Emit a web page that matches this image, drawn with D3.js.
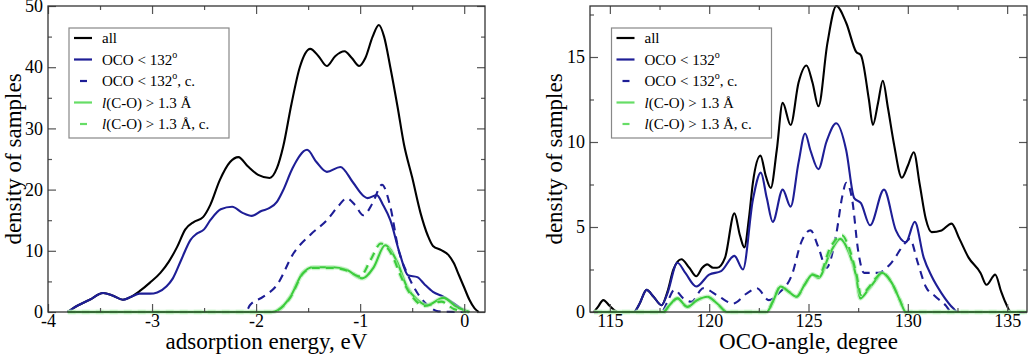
<!DOCTYPE html>
<html>
<head>
<meta charset="utf-8">
<script src="https://cdn.jsdelivr.net/npm/d3@7"></script>
<style>
  body { margin: 0; background: #fff; }
  svg { display: block; }
  svg text { font-family: "Liberation Serif", "Times New Roman", serif; }
</style>
</head>
<body>
<svg id="chart" width="1028" height="358"></svg>
<script>
// ---- data: [x, density] ----
const energyAll = [[-3.81,0],[-3.76,0.6],[-3.6,2.0],[-3.47,3.1],[-3.38,2.7],[-3.28,2.0],[-3.2,2.5],[-3.12,3.4],[-3.02,4.8],[-2.92,6.4],[-2.84,8.2],[-2.76,10.6],[-2.68,13.5],[-2.6,14.7],[-2.51,15.5],[-2.44,17.5],[-2.35,21.5],[-2.25,24.5],[-2.17,25.3],[-2.08,23.8],[-1.98,22.4],[-1.87,21.9],[-1.8,23.5],[-1.74,27],[-1.66,34],[-1.58,40],[-1.48,43],[-1.4,41.8],[-1.32,40.2],[-1.24,41.8],[-1.15,42.6],[-1.08,41.5],[-1.01,40.2],[-0.95,41.5],[-0.88,45],[-0.82,46.9],[-0.77,45],[-0.71,40],[-0.64,33.5],[-0.58,27.5],[-0.5,22],[-0.42,16.2],[-0.35,12.5],[-0.3,10.8],[-0.22,10.1],[-0.15,9.3],[-0.1,8],[-0.05,6],[0,4],[0.05,2],[0.1,0.6],[0.14,0]];
const energyOco = [[-3.81,0],[-3.76,0.6],[-3.6,2.0],[-3.47,3.1],[-3.38,2.7],[-3.28,2.0],[-3.2,2.5],[-3.12,3.0],[-3.02,3.0],[-2.95,3.2],[-2.86,4.2],[-2.8,5.5],[-2.72,8.5],[-2.63,11.8],[-2.57,12.8],[-2.5,13.5],[-2.44,15],[-2.34,16.8],[-2.23,17.2],[-2.13,16.2],[-2.04,15.7],[-1.95,16.5],[-1.87,17],[-1.8,18],[-1.74,19.9],[-1.65,23.5],[-1.51,26.5],[-1.42,24.5],[-1.32,22.9],[-1.19,23.7],[-1.07,21.2],[-0.97,19.0],[-0.93,18.6],[-0.84,19.1],[-0.78,17.5],[-0.71,15],[-0.62,9.6],[-0.54,6.0],[-0.45,5.7],[-0.38,4.5],[-0.3,3.3],[-0.2,2.5],[-0.1,1.4],[0,0.3],[0.05,0]];
const energyOcoC = [[-3.81,0],[-2.1,0],[-2.06,1.1],[-1.93,2.5],[-1.8,4.4],[-1.64,9.6],[-1.48,12.6],[-1.32,15],[-1.2,17.5],[-1.13,18.6],[-1.05,17.5],[-0.97,15.8],[-0.88,17.8],[-0.79,20.8],[-0.71,17.2],[-0.63,10.1],[-0.55,6.4],[-0.45,3.1],[-0.33,0.8],[-0.25,0.1],[0.0,0]];
const energyCo = [[-3.81,0],[-1.85,0],[-1.79,0.3],[-1.67,2.5],[-1.55,6.4],[-1.45,7.3],[-1.26,7.3],[-1.13,6.9],[-0.98,5.5],[-0.87,7.3],[-0.76,10.9],[-0.64,8.0],[-0.55,4.1],[-0.45,2.0],[-0.36,1.1],[-0.2,2.3],[-0.07,0.8],[0.05,0]];
const energyCoC = [[-3.81,0],[-1.85,0],[-1.79,0.3],[-1.67,2.4],[-1.55,6.3],[-1.45,7.2],[-1.26,7.2],[-1.13,6.8],[-1.0,5.8],[-0.9,8.5],[-0.8,11.2],[-0.7,9.5],[-0.6,5.5],[-0.5,2.5],[-0.38,1.0],[-0.22,1.7],[-0.1,0.5],[0.02,0]];

const angleAll = [[114.2,0],[114.4,0.3],[114.67,0.7],[115,0.35],[115.4,0],[116.2,0],[116.5,0.5],[116.85,1.3],[117.2,0.9],[117.6,0.4],[117.9,1.2],[118.2,2.5],[118.6,3.1],[119.0,2.6],[119.35,2.1],[119.65,2.6],[119.9,2.8],[120.2,2.6],[120.4,2.6],[120.8,3.2],[121.27,5.8],[121.55,4.5],[121.77,3.8],[122.0,5.5],[122.2,7.6],[122.58,9.2],[122.85,8.0],[123.1,7.3],[123.4,9.5],[123.7,12.3],[124.1,11],[124.5,13.5],[124.9,14.5],[125.2,13.5],[125.5,12.1],[125.95,15.8],[126.4,18],[126.9,17],[127.4,15.3],[127.64,15.1],[128.04,12.5],[128.24,11],[128.5,12.3],[128.74,13.6],[129.0,12],[129.3,9.9],[129.7,7.9],[130.0,8.6],[130.3,9.4],[130.6,7.5],[130.9,5.5],[131.2,4.7],[131.7,4.8],[132.2,5.2],[132.6,4.3],[133.06,3.2],[133.66,2.3],[133.96,1.6],[134.4,2.2],[134.7,1.2],[134.9,0.6],[135.2,0],[136,0]];
const angleOco = [[114.2,0],[116.2,0],[116.5,0.5],[116.85,1.3],[117.2,0.9],[117.6,0.4],[117.9,1.1],[118.4,2.9],[118.8,2.3],[119.35,1.5],[120.0,2.2],[120.6,2.4],[121.27,3.3],[121.7,2.5],[122.2,6.6],[122.6,8.2],[122.9,6.7],[123.2,5.3],[123.7,7.2],[124.1,6.2],[124.5,8.8],[124.83,10.5],[125.1,9.5],[125.5,8.4],[125.9,10.0],[126.4,11.1],[126.9,9.5],[127.3,6.7],[127.64,6.4],[128.1,5.1],[128.8,7.2],[129.4,4.8],[129.9,4.1],[130.35,5.3],[130.8,3.2],[131.2,2.1],[131.7,1.1],[132.3,0.2],[132.5,0],[136,0]];
const angleOcoC = [[114.2,0],[117.6,0],[117.9,0.6],[118.25,1.3],[118.7,0.8],[119.1,0.6],[119.7,1.4],[120.5,0.9],[121.2,0.5],[121.9,1.1],[122.4,1.4],[123.0,0.7],[123.5,1.1],[124.2,2.3],[124.6,4.0],[125.1,4.8],[125.5,3.8],[125.9,2.6],[126.4,4.6],[126.7,6.8],[126.9,7.6],[127.2,6.6],[127.5,3.6],[127.8,2.3],[128.5,2.3],[129.1,2.8],[129.9,4.1],[130.1,4.3],[130.5,2.9],[130.9,1.5],[131.4,0.9],[131.9,0.4],[132.2,0],[136,0]];
const angleCo = [[114.2,0],[117.7,0],[118.0,0.4],[118.4,0.8],[118.9,0.3],[119.4,0.7],[119.9,0.9],[120.4,0.5],[120.9,0],[122.9,0],[123.2,0.6],[123.6,1.5],[124.0,1.2],[124.4,0.9],[124.8,1.6],[125.2,2.2],[125.5,2.0],[126.1,3.5],[126.6,4.3],[127.0,3.6],[127.4,2.1],[127.6,0.8],[128.0,1.3],[128.4,1.9],[128.7,2.3],[129.2,1.7],[129.6,0.7],[129.9,0],[136,0]];
const angleCoC = [[114.2,0],[117.7,0],[118.0,0.4],[118.4,0.8],[118.9,0.3],[119.4,0.7],[119.9,0.9],[120.4,0.5],[120.9,0],[122.9,0],[123.2,0.6],[123.6,1.5],[124.0,1.2],[124.4,0.9],[124.8,1.6],[125.2,2.2],[125.5,2.1],[126.1,3.8],[126.7,4.5],[127.0,3.9],[127.4,2.3],[127.65,1.0],[128.0,1.4],[128.4,2.0],[128.7,2.3],[129.2,1.7],[129.6,0.7],[129.9,0],[136,0]];

const energyTicks = [-4, -3, -2, -1, 0];
const energyMinor = [-3.5, -2.5, -1.5, -0.5];
const energyYTicks = [0, 10, 20, 30, 40, 50];
const energyYMinor = [5, 15, 25, 35, 45];
const angleTicks = [115, 120, 125, 130, 135];
const angleMinor = [117.5, 122.5, 127.5, 132.5];
const angleYTicks = [0, 5, 10, 15];
const angleYMinor = [2.5, 7.5, 12.5, 17.5];

const legendLabels = [
  [{t: "all"}],
  [{t: "OCO < 132"}, {t: "o", sup: true}],
  [{t: "OCO < 132"}, {t: "o", sup: true}, {t: ", c."}],
  [{t: "l", it: true}, {t: "(C-O) > 1.3 Å"}],
  [{t: "l", it: true}, {t: "(C-O) > 1.3 Å, c."}]
];

const BLACK = "#000", BLUE = "#1e1e96", GREEN = "#3ccc3c";
const styles = [
  {color: BLACK, dash: null, key: BLACK},
  {color: BLUE, dash: null, key: BLUE},
  {color: BLUE, dash: "8,6", key: BLUE},
  {color: GREEN, dash: null, halo: true, key: "#66dd66"},
  {color: GREEN, dash: "8,6", halo: true, key: "#66dd66"}
];

const svg = d3.select("#chart");

function panel(o) {
  const x = d3.scaleLinear().domain(o.xDomain).range([o.left, o.right]);
  const y = d3.scaleLinear().domain(o.yDomain).range([o.bottom, o.top]);
  const g = svg.append("g");

  const line = d3.line().x(d => x(d[0])).y(d => y(d[1])).curve(d3.curveMonotoneX);

  o.series.forEach((s, i) => {
    const st = styles[i];
    if (st.halo) {
      g.append("path").attr("d", line(s)).attr("fill", "none")
        .attr("stroke", "#b4efb4").attr("stroke-width", 4.5).attr("stroke-opacity", 0.6)
        .attr("stroke-dasharray", st.dash);
    }
    g.append("path").attr("d", line(s)).attr("fill", "none")
      .attr("stroke", st.color).attr("stroke-width", 2.1)
      .attr("stroke-dasharray", st.dash);
  });

  // inward ticks on all four sides
  const tickAxis = (axis, scale, vals, size, label) =>
    axis(scale).tickValues(vals).tickSize(-size).tickPadding(label ? (axis === d3.axisBottom ? 2 : 5) : 0)
      .tickFormat(label ? d => String(d) : "");

  const addAxis = (a, tr) => {
    const ax = g.append("g").attr("transform", tr).call(a)
      .attr("font-family", null).attr("font-size", null);
    ax.select(".domain").remove();
    ax.selectAll("line").attr("stroke", "#555").attr("stroke-width", 1.2);
    ax.selectAll("text").style("font-size", "18px").attr("fill", "#000");
  };
  addAxis(tickAxis(d3.axisBottom, x, o.xTicks, 8, true), `translate(0,${o.bottom})`);
  addAxis(tickAxis(d3.axisBottom, x, o.xMinor, 4, false), `translate(0,${o.bottom})`);
  addAxis(tickAxis(d3.axisTop, x, o.xTicks, 8, false), `translate(0,${o.top})`);
  addAxis(tickAxis(d3.axisTop, x, o.xMinor, 4, false), `translate(0,${o.top})`);
  addAxis(tickAxis(d3.axisLeft, y, o.yTicks, 8, true), `translate(${o.left},0)`);
  addAxis(tickAxis(d3.axisLeft, y, o.yMinor, 4, false), `translate(${o.left},0)`);
  addAxis(tickAxis(d3.axisRight, y, o.yTicks, 8, false), `translate(${o.right},0)`);
  addAxis(tickAxis(d3.axisRight, y, o.yMinor, 4, false), `translate(${o.right},0)`);

  g.append("rect")
    .attr("x", o.left).attr("y", o.top)
    .attr("width", o.right - o.left).attr("height", o.bottom - o.top)
    .attr("fill", "none").attr("stroke", "#333").attr("stroke-width", 1.3);

  // axis titles
  g.append("text")
    .attr("x", (o.left + o.right) / 2).attr("y", 349)
    .attr("text-anchor", "middle").style("font-size", "23px")
    .text(o.xTitle);
  g.append("text")
    .attr("transform", `translate(${o.yTitleX},${(o.top + o.bottom) / 2}) rotate(-90)`)
    .attr("text-anchor", "middle").style("font-size", "23px")
    .text("density of samples");

  // legend
  const lg = g.append("g").attr("transform", `translate(${o.legendX},28)`);
  lg.append("rect").attr("width", 160).attr("height", 110)
    .attr("fill", "#fff").attr("stroke", "#888").attr("stroke-width", 1.2);
  legendLabels.forEach((parts, i) => {
    const yy = 10 + i * 21.5;
    const st = styles[i];
    lg.append("line")
      .attr("x1", 5).attr("x2", 23).attr("y1", yy).attr("y2", yy)
      .attr("stroke", st.key).attr("stroke-width", 2.2)
      .attr("stroke-dasharray", st.dash ? "7,20" : null)
      .attr("stroke-dashoffset", st.dash ? -6 : null);
    const t = lg.append("text").attr("x", 33).attr("y", yy + 5).style("font-size", "15px");
    let raised = false;
    parts.forEach(p => {
      const sp = t.append("tspan").text(p.t);
      if (p.it) sp.attr("font-style", "italic");
      if (p.sup) { sp.style("font-size", "10px").attr("dy", -7); raised = true; }
      else if (raised) { sp.attr("dy", 7); raised = false; }
    });
  });
}

panel({
  left: 48, right: 485, top: 6, bottom: 312,
  xDomain: [-4, 0.2], yDomain: [0, 50],
  xTicks: energyTicks, xMinor: energyMinor, yTicks: energyYTicks, yMinor: energyYMinor,
  xTitle: "adsorption energy, eV", yTitleX: 21, legendX: 69,
  series: [energyAll, energyOco, energyOcoC, energyCo, energyCoC]
});

panel({
  left: 590, right: 1027, top: 6, bottom: 312,
  xDomain: [114, 136], yDomain: [0, 18],
  xTicks: angleTicks, xMinor: angleMinor, yTicks: angleYTicks, yMinor: angleYMinor,
  xTitle: "OCO-angle, degree", yTitleX: 562, legendX: 611.5,
  series: [angleAll, angleOco, angleOcoC, angleCo, angleCoC]
});
</script>
</body>
</html>
